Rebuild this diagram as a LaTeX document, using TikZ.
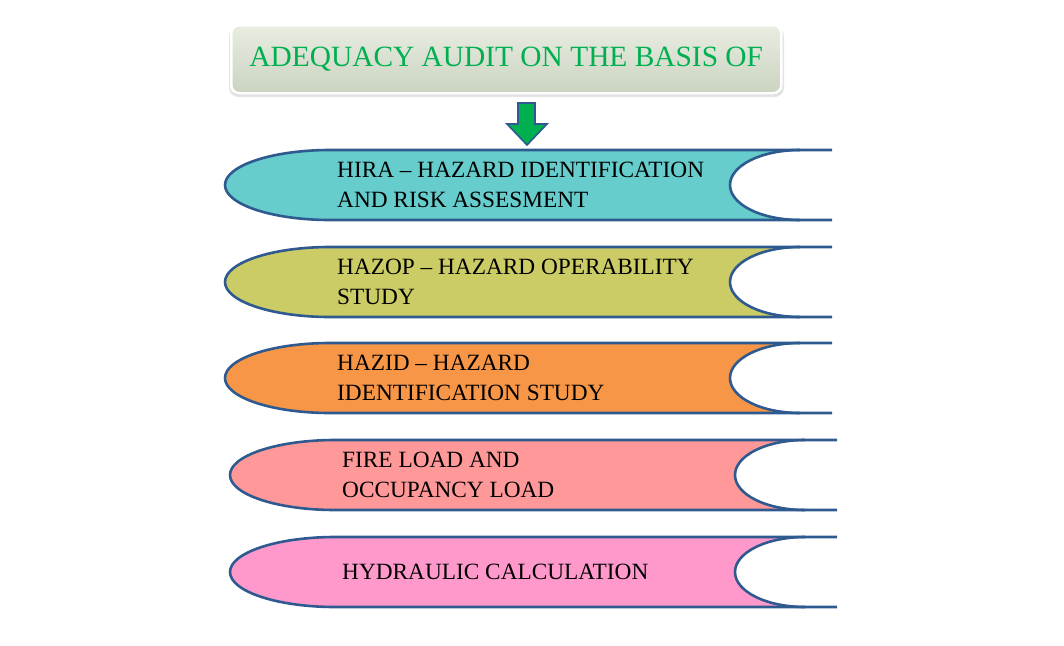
\documentclass[tikz,border=0pt]{standalone}
\usepackage{fontspec}
\setmainfont{Liberation Serif}
\definecolor{edge}{HTML}{2F5A8F}
\definecolor{titlegreen}{HTML}{00B050}
\definecolor{hdrtop}{HTML}{E8EDE1}
\definecolor{hdrbot}{HTML}{CBD3C1}
\definecolor{cteal}{HTML}{66CCCC}
\definecolor{colive}{HTML}{CCCC66}
\definecolor{corange}{HTML}{F79646}
\definecolor{csalmon}{HTML}{FF9999}
\definecolor{cpink}{HTML}{FF99CC}
\tikzset{
  bandline/.style={draw=edge, line width=2.6pt, line join=round},
  bandtext/.style={anchor=west, align=left, font=\fontsize{23.3}{30}\selectfont, inner sep=0pt, text=black},
}
\newcommand{\band}[5]{% #1 left x, #2 top y, #3 right x, #4 colour, #5 name
  \pgfmathsetmacro{\yb}{#2+70}
  \pgfmathsetmacro{\ym}{#2+35}
  \pgfmathsetmacro{\xl}{#1+105}
  \pgfmathsetmacro{\xlc}{#1+105-58}
  \pgfmathsetmacro{\xr}{#3-32}
  \pgfmathsetmacro{\xrc}{#3-32-39}
  \pgfmathsetmacro{\xrm}{#3-32-70}
  \pgfmathsetmacro{\yu}{#2+35-19.3}
  \pgfmathsetmacro{\yd}{#2+35+19.3}
  \path[fill=#4] (\xr,#2) .. controls (\xrc,#2) and (\xrm,\yu) .. (\xrm,\ym)
     .. controls (\xrm,\yd) and (\xrc,\yb) .. (\xr,\yb) -- (\xl,\yb)
     .. controls (\xlc,\yb) and (#1,\yd) .. (#1,\ym)
     .. controls (#1,\yu) and (\xlc,#2) .. (\xl,#2) -- cycle;
  \draw[bandline] (#3,#2) -- (\xl,#2) .. controls (\xlc,#2) and (#1,\yu) .. (#1,\ym)
     .. controls (#1,\yd) and (\xlc,\yb) .. (\xl,\yb) -- (#3,\yb);
  \draw[bandline] (\xr,#2) .. controls (\xrc,#2) and (\xrm,\yu) .. (\xrm,\ym)
     .. controls (\xrm,\yd) and (\xrc,\yb) .. (\xr,\yb);
  \coordinate (#5) at (#1,\ym);
}
\begin{document}
\begin{tikzpicture}[x=1pt,y=-1pt]
\useasboundingbox (0,0) rectangle (1064,645);
% header
\fill[black!10, rounded corners=9pt] (229,27) rectangle (784,97);
\fill[black!20, rounded corners=8pt] (231,28) rectangle (782,95);
\node[draw=white, line width=2.5pt, rounded corners=8pt, top color=hdrtop, bottom color=hdrbot,
      minimum width=550pt, minimum height=68pt, inner sep=0pt, anchor=north west,
      text=titlegreen, font=\fontsize{29.4}{34}\selectfont] (title) at (230,24) {ADEQUACY AUDIT ON THE BASIS OF};
% arrow
\draw[fill=titlegreen, draw=edge, line width=1.6pt, line join=miter]
  (518,103) -- (535,103) -- (535,124) -- (547,124) -- (527,145) -- (507,124) -- (518,124) -- cycle;
\coordinate (arrowtip) at (527,145);
% bands
\band{225}{150}{832}{cteal}{b1}
\band{225}{247}{832}{colive}{b2}
\band{225}{343}{832}{corange}{b3}
\band{230}{440}{837}{csalmon}{b4}
\band{230}{537}{837}{cpink}{b5}
\node[bandtext] (t1) at (337,185) {HIRA – HAZARD IDENTIFICATION\\AND RISK ASSESMENT};
\node[bandtext] (t2) at (337,282) {HAZOP – HAZARD OPERABILITY\\STUDY};
\node[bandtext] (t3) at (337,378) {HAZID – HAZARD\\IDENTIFICATION STUDY};
\node[bandtext] (t4) at (342,475) {FIRE LOAD AND\\OCCUPANCY LOAD};
\node[bandtext] (t5) at (342,572) {HYDRAULIC CALCULATION};
\end{tikzpicture}
\end{document}
